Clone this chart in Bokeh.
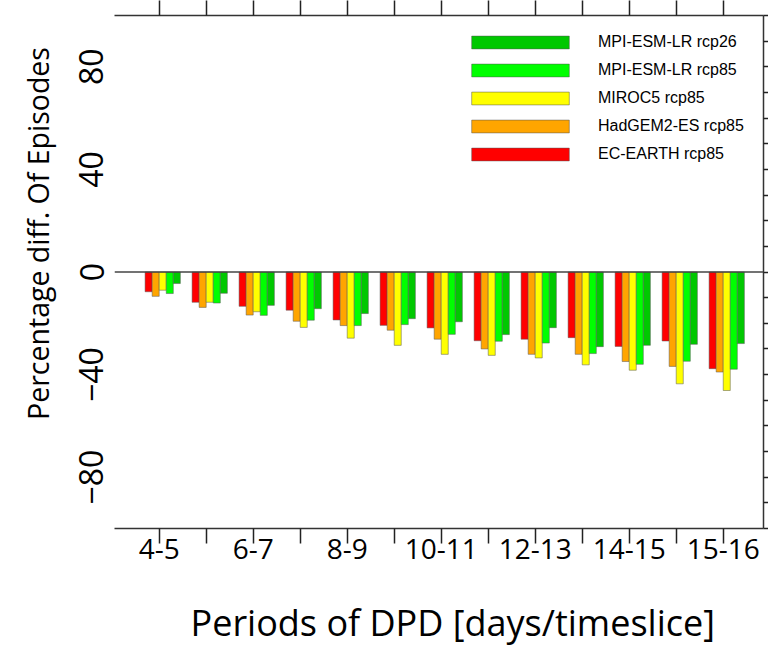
import math
from bokeh.plotting import figure
from bokeh.layouts import row, column
from bokeh.models import (Range1d, FixedTicker, LinearAxis, Span, Legend, LegendItem,
                          ColumnDataSource)
from bokeh.core.properties import value
from bokeh.embed import file_html
from bokeh.resources import INLINE

# ---- data ----
positions = list(range(1, 14))
tick_label_pos = [1, 3, 5, 7, 9, 11, 13]
tick_labels = ["4-5", "6-7", "8-9", "10-11", "12-13", "14-15", "15-16"]
unlabelled_pos = [2, 4, 6, 8, 10, 12]

series_names = ["EC-EARTH rcp85", "HadGEM2-ES rcp85", "MIROC5 rcp85",
                "MPI-ESM-LR rcp85", "MPI-ESM-LR rcp26"]
series_colors = ["#FF0000", "#FFA500", "#FFFF00", "#00FF00", "#00C800"]

ec_earth = [-7.7, -11.8, -13.4, -14.9, -18.7, -20.8, -21.8, -26.8, -26.2, -25.6, -29.0, -26.9, -37.7]
hadgem = [-9.5, -13.8, -16.8, -19.2, -20.9, -22.7, -26.2, -30.0, -32.1, -32.1, -34.9, -36.8, -39.0]
miroc5 = [-7.1, -11.8, -15.5, -21.6, -25.8, -28.6, -32.1, -32.5, -33.5, -36.2, -38.3, -43.6, -46.2]
mpi85 = [-8.4, -12.1, -16.9, -18.8, -20.9, -20.5, -24.3, -27.0, -27.7, -31.8, -36.0, -34.8, -37.9]
mpi26 = [-4.5, -8.3, -13.0, -14.3, -16.2, -18.2, -19.4, -24.4, -21.7, -29.1, -28.6, -28.2, -27.9]
series_values = [ec_earth, hadgem, miroc5, mpi85, mpi26]

y_ticks = [-80, -40, 0, 40, 80]
right_ticks = list(range(-100, 101, 10))

x_title = "Periods of DPD [days/timeslice]"
y_title = "Percentage diff. Of Episodes"

bar_width = 0.15
bar_offsets = [-0.225, -0.075, 0.075, 0.225, 0.375]

FONT = "Open Sans"
X0, X1 = 0.049, 13.857

TOTAL_W, TOTAL_H = 768, 646
YT_W = 60            # strip holding the y-axis title
MAIN_H = 568         # main chart height; the rest holds the x-axis title
MAIN_W = TOTAL_W - YT_W
XT_H = TOTAL_H - MAIN_H


def blank_fig(w, h):
    f = figure(width=w, height=h, output_backend="svg", toolbar_location=None,
               x_range=Range1d(0, w), y_range=Range1d(0, h), min_border=0,
               x_axis_type=None, y_axis_type=None)
    f.outline_line_color = None
    f.grid.visible = False
    f.background_fill_color = "white"
    f.border_fill_color = "white"
    return f


p = figure(width=MAIN_W, height=MAIN_H, output_backend="svg", toolbar_location=None,
           x_range=Range1d(X0, X1), y_range=Range1d(-100, 100),
           min_border_left=114 - YT_W, min_border_right=5, min_border_top=15,
           min_border_bottom=MAIN_H - 528, x_axis_type=None, y_axis_type=None)
p.outline_line_color = None
p.grid.visible = False
p.background_fill_color = "white"
p.border_fill_color = "white"

renderers = []
for name, col, vals, off in zip(series_names, series_colors, series_values, bar_offsets):
    src = ColumnDataSource(dict(x=[q + off for q in positions], top=[0] * len(vals), bottom=vals))
    r = p.vbar(x="x", top="top", bottom="bottom", width=bar_width, source=src,
               fill_color=col, line_color="#555555", line_alpha=0.5, line_width=1)
    renderers.append(r)

p.add_layout(Span(location=0, dimension="width", line_color="#444444", line_width=1.5))


def frame_axis(ax, out):
    ax.major_tick_out = out
    ax.major_tick_in = 0
    ax.minor_tick_out = out
    ax.minor_tick_in = 0
    ax.major_tick_line_width = 1.5
    ax.minor_tick_line_width = 1.5
    ax.major_tick_line_color = "#222222"
    ax.minor_tick_line_color = "#222222"
    ax.axis_line_width = 1.5
    ax.axis_line_color = "#333333"


# bottom axis: labelled ticks (major) + unlabelled ticks (minor)
xb = LinearAxis(ticker=FixedTicker(ticks=tick_label_pos, minor_ticks=unlabelled_pos))
frame_axis(xb, 15)
xb.major_label_overrides = {q: t for q, t in zip(tick_label_pos, tick_labels)}
xb.major_label_text_font = FONT
xb.major_label_text_font_size = "28px"
xb.major_label_text_color = "black"
xb.major_label_standoff = -5
p.add_layout(xb, "below")

# top axis (frame line + ticks, no labels)
xt = LinearAxis(ticker=FixedTicker(ticks=[], minor_ticks=positions))
frame_axis(xt, 15)
xt.major_label_standoff = 0
p.add_layout(xt, "above")

# right axis (frame line + ticks, no labels)
yr = LinearAxis(ticker=FixedTicker(ticks=[], minor_ticks=right_ticks))
frame_axis(yr, 5)
yr.major_label_standoff = 0
p.add_layout(yr, "right")

# left axis: labels only
yl = LinearAxis(ticker=FixedTicker(ticks=y_ticks))
yl.axis_line_color = None
yl.major_tick_line_color = None
yl.minor_tick_line_color = None
yl.major_tick_out = 0
yl.major_tick_in = 0
yl.major_label_orientation = "vertical"
yl.major_label_text_font = FONT
yl.major_label_text_font_size = "32px"
yl.major_label_text_color = "black"
yl.major_label_standoff = 11
p.add_layout(yl, "left")

items = [LegendItem(label=n, renderers=[r]) for n, r in zip(series_names, renderers)]
items = items[::-1]
legend = Legend(items=items, location=(345, 364), orientation="vertical",
                glyph_width=122, glyph_height=16, label_standoff=17,
                label_height=20, spacing=8, padding=0, margin=0,
                label_text_font="Liberation Sans", label_text_font_size="16px",
                label_text_color="black",
                border_line_color=None, background_fill_alpha=0)
p.add_layout(legend, "center")

# y-axis title strip
yfig = blank_fig(YT_W, TOTAL_H)
yfig.text(x=[37], y=[TOTAL_H - 233], text=[y_title], angle=math.pi / 2,
          text_font=value(FONT), text_font_size=value("28.5px"), text_color="black",
          text_align="center", text_baseline="middle")

# x-axis title strip
xfig = blank_fig(MAIN_W, XT_H)
xfig.text(x=[369], y=[24], text=[x_title],
          text_font=value(FONT), text_font_size=value("36px"), text_color="black",
          text_align="center", text_baseline="alphabetic")

layout = row(yfig, column(p, xfig, spacing=0), spacing=0)

open("out.html", "w").write(file_html(layout, INLINE))
